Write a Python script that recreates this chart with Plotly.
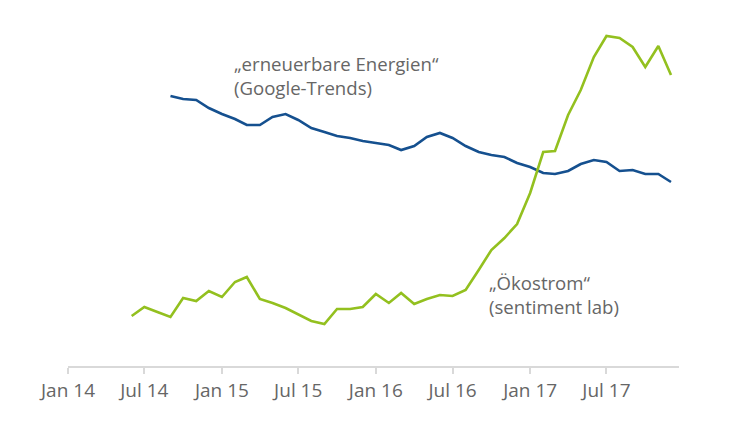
import plotly.graph_objects as go
import pandas as pd

# Monthly values (index; higher = more)
green_months = pd.date_range("2014-06-01", "2017-12-01", freq="MS")
green_vals = [50, 59, 54, 49, 68, 65, 75, 69, 84, 89,
              67, 63, 58, 52, 45, 42, 57, 57, 59, 72,
              63, 73, 62, 67, 71, 70, 76, 96, 116, 128,
              142, 173, 214, 215, 251, 276, 309, 330, 328, 319,
              299, 320, 291]

blue_months = pd.date_range("2014-09-01", "2017-12-01", freq="MS")
blue_vals = [270, 267, 266, 258, 252, 247, 241, 241, 249, 252,
             246, 238, 234, 230, 228, 225, 223, 221, 216, 220,
             229, 233, 228, 220, 214, 211, 209, 203, 199, 193,
             192, 195, 202, 206, 204, 195, 196, 192, 192, 184]

tick_vals = ["2014-01-01", "2014-07-01", "2015-01-01", "2015-07-01",
             "2016-01-01", "2016-07-01", "2017-01-01", "2017-07-01"]
tick_text = ["Jan 14", "Jul 14", "Jan 15", "Jul 15",
             "Jan 16", "Jul 16", "Jan 17", "Jul 17"]

BLUE = "#15508f"
GREEN = "#93c01f"
TEXT = "#666666"
FONT = "Open Sans"

fig = go.Figure()
fig.add_trace(go.Scatter(x=blue_months, y=blue_vals, mode="lines",
                         line=dict(color=BLUE, width=2.6), hoverinfo="skip"))
fig.add_trace(go.Scatter(x=green_months, y=green_vals, mode="lines",
                         line=dict(color=GREEN, width=2.6), hoverinfo="skip"))

fig.add_annotation(x="2015-01-26", y=291, xref="x", yref="y",
                   text="„erneuerbare Energien“<br>(Google-Trends)",
                   showarrow=False, xanchor="left", yanchor="middle", align="left",
                   font=dict(family=FONT, size=18.6, color=TEXT))
fig.add_annotation(x="2016-09-20", y=72, xref="x", yref="y",
                   text="„Ökostrom“<br>(sentiment lab)",
                   showarrow=False, xanchor="left", yanchor="middle", align="left",
                   font=dict(family=FONT, size=18.6, color=TEXT))

fig.update_layout(
    width=743, height=441,
    margin=dict(l=68, r=64, t=20, b=75),
    plot_bgcolor="white", paper_bgcolor="white",
    showlegend=False,
    xaxis=dict(type="date", range=["2014-01-01", "2017-12-20"],
               tickvals=tick_vals, ticktext=tick_text,
               showgrid=False, zeroline=False,
               showline=True, linecolor="#d9d9d9", linewidth=1.5,
               ticks="outside", tickcolor="#d9d9d9", ticklen=6, tickwidth=1.5,
               tickfont=dict(family=FONT, size=19, color=TEXT)),
    yaxis=dict(range=[0, 346], visible=False, showgrid=False, zeroline=False),
)

fig.write_html("out.html")
